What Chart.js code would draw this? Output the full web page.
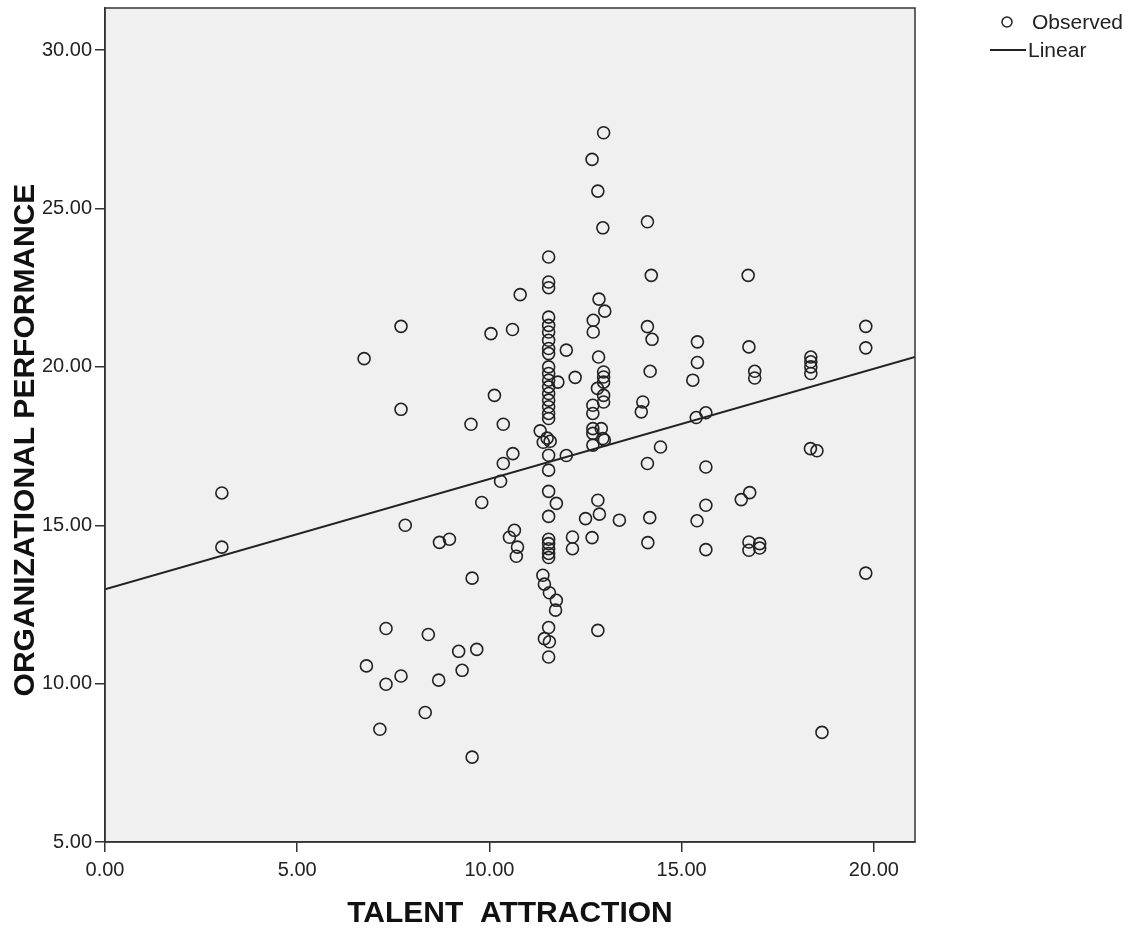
<!DOCTYPE html>
<html>
<head>
<meta charset="utf-8">
<script src="https://cdn.jsdelivr.net/npm/chart.js@4.4.1/dist/chart.umd.min.js"></script>
<style>
  html, body { margin: 0; padding: 0; background: #ffffff; }
  #wrap { width: 1130px; height: 930px; position: relative; }
  canvas { display: block; }
</style>
</head>
<body>
<div id="wrap"><canvas id="c" width="1130" height="930"></canvas></div>
<script>
// ---- Data ----
const talentAttraction = [
  3.04, 3.04, 7.70, 6.74, 7.70, 7.81, 7.31, 8.41, 9.20, 9.67, 6.80, 7.70, 7.31, 8.68, 9.29, 8.33, 7.15, 9.55,
  10.04, 10.60, 10.13, 9.52, 10.36, 10.61, 10.36, 10.29, 9.80, 8.70, 8.96, 10.65, 10.52, 10.73, 10.70, 9.55, 10.80,
  11.54, 11.54, 11.54, 11.54, 11.54, 11.54, 11.54, 11.54, 11.54, 11.54, 11.54, 11.54, 11.54, 11.54, 11.54,
  11.54, 11.54, 11.54, 11.54, 11.54, 11.54, 11.54, 11.54, 11.54, 11.54, 11.54, 11.54, 11.54, 11.54,
  11.32, 11.50, 11.58, 11.40, 11.74, 11.39, 11.43, 11.56, 11.74, 11.72, 11.43, 11.56, 11.78, 12.00, 12.23, 12.00,
  12.16, 12.16, 12.50,
  12.97, 12.67, 12.82, 12.95, 12.85, 13.00, 12.70, 12.70, 12.84, 12.97, 12.97, 12.97, 12.81, 12.97, 12.97,
  12.69, 12.69, 12.69, 12.91, 12.95, 12.99, 12.69, 12.69, 12.82, 12.86, 13.38, 12.67, 12.82,
  14.11, 14.21, 16.73, 14.11, 14.23, 15.41, 16.75, 15.41, 14.18, 15.29, 16.90, 16.90, 18.36, 18.36, 18.36, 18.36,
  19.79, 19.79, 13.99, 13.95, 15.38, 15.63, 14.45, 14.11, 15.63, 18.35, 18.52, 16.77, 16.55, 15.63, 15.40, 14.17,
  14.12, 15.63, 16.75, 16.75, 17.03, 17.03, 19.79, 18.65
];
const orgPerformance = [
  16.02, 14.31, 21.28, 20.26, 18.66, 15.00, 11.74, 11.55, 11.02, 11.08, 10.56, 10.24, 9.98, 10.11, 10.42, 9.09, 8.56, 7.68,
  21.05, 21.18, 19.10, 18.19, 18.19, 17.26, 16.95, 16.39, 15.72, 14.46, 14.56, 14.84, 14.62, 14.31, 14.02, 13.33, 22.28,
  23.47, 22.68, 22.50, 21.57, 21.31, 21.10, 20.84, 20.58, 20.42, 20.00, 19.79, 19.58, 19.37, 19.16, 18.95,
  18.74, 18.53, 18.37, 17.21, 16.74, 16.07, 15.28, 14.56, 14.42, 14.26, 14.11, 13.98, 11.77, 10.84,
  17.98, 17.75, 17.65, 17.62, 15.69, 13.42, 13.14, 12.87, 12.63, 12.32, 11.42, 11.32, 19.52, 20.53, 19.67, 17.20,
  14.63, 14.26, 15.21,
  27.39, 26.55, 25.55, 24.39, 22.14, 21.76, 21.47, 21.10, 20.31, 19.84, 19.68, 19.52, 19.32, 19.10, 18.89,
  18.79, 18.53, 18.05, 18.05, 17.74, 17.69, 17.90, 17.53, 15.79, 15.35, 15.16, 14.61, 11.68,
  24.58, 22.89, 22.89, 21.27, 20.87, 20.79, 20.63, 20.14, 19.86, 19.58, 19.86, 19.65, 20.31, 20.16, 20.00, 19.79,
  21.28, 20.60, 18.89, 18.58, 18.40, 18.55, 17.47, 16.95, 16.84, 17.42, 17.35, 16.03, 15.81, 15.63, 15.14, 15.24,
  14.45, 14.23, 14.47, 14.21, 14.42, 14.28, 13.49, 8.46
];
// Linear fit line end points
const fitX = [0, 21.07];
const fitY = [12.98, 20.31];
// Axis ticks
const xTicks = [0, 5, 10, 15, 20];
const yTicks = [5, 10, 15, 20, 25, 30];
const xRange = [0, 21.07];
const yRange = [5, 31.33];
const xTitle = 'TALENT  ATTRACTION';
const yTitle = 'ORGANIZATIONAL PERFORMANCE';
const legendLabels = ['Observed', 'Linear'];

const observed = talentAttraction.map((x, i) => ({ x: x, y: orgPerformance[i] }));
const fitLine = fitX.map((x, i) => ({ x: x, y: fitY[i] }));

const INK = '#222222';
const FONT = "'Liberation Sans', Arial, sans-serif";

const framePlugin = {
  id: 'frame',
  beforeDraw(chart) {
    const { ctx, chartArea: a } = chart;
    ctx.save();
    ctx.fillStyle = '#f0f0f0';
    ctx.fillRect(a.left, a.top, a.right - a.left, a.bottom - a.top);
    ctx.restore();
  },
  afterDraw(chart) {
    const { ctx, chartArea: a } = chart;
    ctx.save();
    ctx.strokeStyle = '#333333';
    ctx.lineWidth = 1.5;
    ctx.strokeRect(a.left, a.top, a.right - a.left, a.bottom - a.top);
    // axis titles
    ctx.fillStyle = '#111111';
    ctx.font = "bold 30px " + FONT;
    ctx.textAlign = 'center';
    ctx.textBaseline = 'middle';
    ctx.fillText(xTitle, (a.left + a.right) / 2, 914);
    ctx.translate(26, 440);
    ctx.rotate(-Math.PI / 2);
    ctx.fillText(yTitle, 0, 0);
    ctx.restore();
    // legend
    ctx.save();
    ctx.strokeStyle = INK;
    ctx.lineWidth = 1.5;
    ctx.beginPath();
    ctx.arc(1007, 22, 5, 0, Math.PI * 2);
    ctx.stroke();
    ctx.lineWidth = 2;
    ctx.beginPath();
    ctx.moveTo(990, 50);
    ctx.lineTo(1026, 50);
    ctx.stroke();
    ctx.fillStyle = INK;
    ctx.font = "21px " + FONT;
    ctx.textAlign = 'left';
    ctx.textBaseline = 'middle';
    ctx.fillText(legendLabels[0], 1032, 23);
    ctx.fillText(legendLabels[1], 1028, 51);
    ctx.restore();
  }
};

new Chart(document.getElementById('c'), {
  type: 'scatter',
  data: {
    datasets: [
      {
        label: legendLabels[0],
        data: observed,
        showLine: false,
        pointStyle: 'circle',
        pointRadius: 6,
        pointBorderWidth: 1.6,
        pointBorderColor: INK,
        pointBackgroundColor: 'rgba(0,0,0,0)',
        order: 2
      },
      {
        label: legendLabels[1],
        type: 'line',
        data: fitLine,
        showLine: true,
        borderColor: INK,
        borderWidth: 2,
        pointRadius: 0,
        fill: false,
        order: 1
      }
    ]
  },
  options: {
    responsive: false,
    animation: false,
    clip: true,
    layout: { autoPadding: false, padding: { left: 0, right: 215, top: 8, bottom: 0 } },
    plugins: {
      legend: { display: false },
      tooltip: { enabled: false }
    },
    scales: {
      x: {
        type: 'linear',
        min: xRange[0],
        max: xRange[1],
        afterFit(s) { s.height = 88; s.paddingLeft = 0; s.paddingRight = 0; },
        afterBuildTicks(s) { s.ticks = xTicks.map(v => ({ value: v })); },
        grid: { drawOnChartArea: false, drawTicks: true, tickLength: 10, color: '#333333', lineWidth: 1.5 },
        border: { display: true, color: '#333333', width: 1.5 },
        ticks: {
          color: INK,
          font: { family: FONT, size: 20 },
          padding: 6,
          maxRotation: 0,
          callback: v => Number(v).toFixed(2)
        }
      },
      y: {
        type: 'linear',
        min: yRange[0],
        max: yRange[1],
        afterFit(s) { s.width = 105; s.paddingTop = 0; s.paddingBottom = 0; },
        afterBuildTicks(s) { s.ticks = yTicks.map(v => ({ value: v })); },
        grid: { drawOnChartArea: false, drawTicks: true, tickLength: 10, color: '#333333', lineWidth: 1.5 },
        border: { display: true, color: '#333333', width: 1.5 },
        ticks: {
          color: INK,
          font: { family: FONT, size: 20 },
          padding: 3,
          callback: v => Number(v).toFixed(2)
        }
      }
    }
  },
  plugins: [framePlugin]
});
</script>
</body>
</html>
